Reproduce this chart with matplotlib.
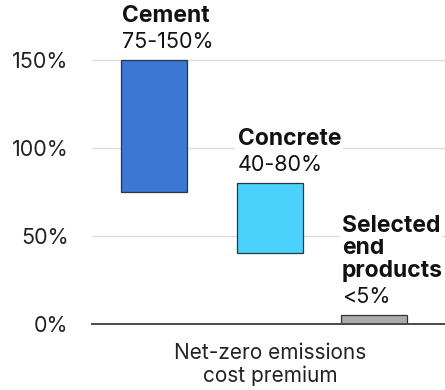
import matplotlib
matplotlib.use("Agg")
import matplotlib.pyplot as plt
import matplotlib.transforms as mtransforms

plt.rcParams["font.family"] = ["Inter", "DejaVu Sans"]

# Data
categories = [["Cement"], ["Concrete"], ["Selected", "end", "products"]]
range_low = [75, 40, 0]
range_high = [150, 80, 5]
value_labels = ["75-150%", "40-80%", "<5%"]
y_ticks = [0, 50, 100, 150]
y_tick_labels = ["0%", "50%", "100%", "150%"]
bar_colors = ["#3b77d4", "#4ad2fd", "#aaaaaa"]

# Layout
slots = [0, 1.05, 2.0]
bar_width = 0.6
W, H, DPI = 445, 390, 100

fig = plt.figure(figsize=(W / DPI, H / DPI), dpi=DPI)
ax = fig.add_axes([92 / W, (H - 323.7) / H, (W - 92) / W, 323.7 / H])
ax.set_xlim(-0.5636, 2.645)
ax.set_ylim(0, 184.4)

# Grid and baseline
for t in y_ticks[1:]:
    ax.axhline(t, color="#dcdcdc", lw=1.0, zorder=1)
ax.axhline(0, color="#4a4a4a", lw=1.4, zorder=4, clip_on=False)

# Floating bars
heights = [h - l for l, h in zip(range_low, range_high)]
ax.bar(slots, heights, bottom=range_low, width=bar_width, color=bar_colors,
       edgecolor="#2b3440", linewidth=0.9, zorder=3)

# Labels above each bar: value line, then the category name lines above it
box = dict(facecolor="white", edgecolor="none", pad=1.5)
for x, top, name_lines, val in zip(slots, range_high, categories, value_labels):
    left = x - bar_width / 2
    base = mtransforms.offset_copy(ax.transData, fig=fig, x=1, y=12, units="dots")
    ax.text(left, top, val, transform=base, ha="left", va="baseline",
            fontsize=15.5, color="#111111", bbox=box, zorder=5)
    for i, line in enumerate(reversed(name_lines)):
        off = 12 + 26 + i * 22.5
        tr = mtransforms.offset_copy(ax.transData, fig=fig, x=1, y=off, units="dots")
        ax.text(left, top, line, transform=tr, ha="left", va="baseline",
                fontsize=16.5, fontweight="bold", color="#111111", bbox=box, zorder=5)

# Y axis tick labels
ax.set_yticks(y_ticks)
ax.set_yticklabels(y_tick_labels, fontsize=15.5, color="#222222")
ax.tick_params(axis="y", length=0, pad=17)
ax.set_xticks([])
for s in ax.spines.values():
    s.set_visible(False)

# Axis title
fig.text(270 / W, 30.7 / H, "Net-zero emissions", ha="center", va="baseline",
         fontsize=15, color="#222222")
fig.text(270 / W, 8.3 / H, "cost premium", ha="center", va="baseline",
         fontsize=15, color="#222222")

fig.savefig("out.png", dpi=DPI)
